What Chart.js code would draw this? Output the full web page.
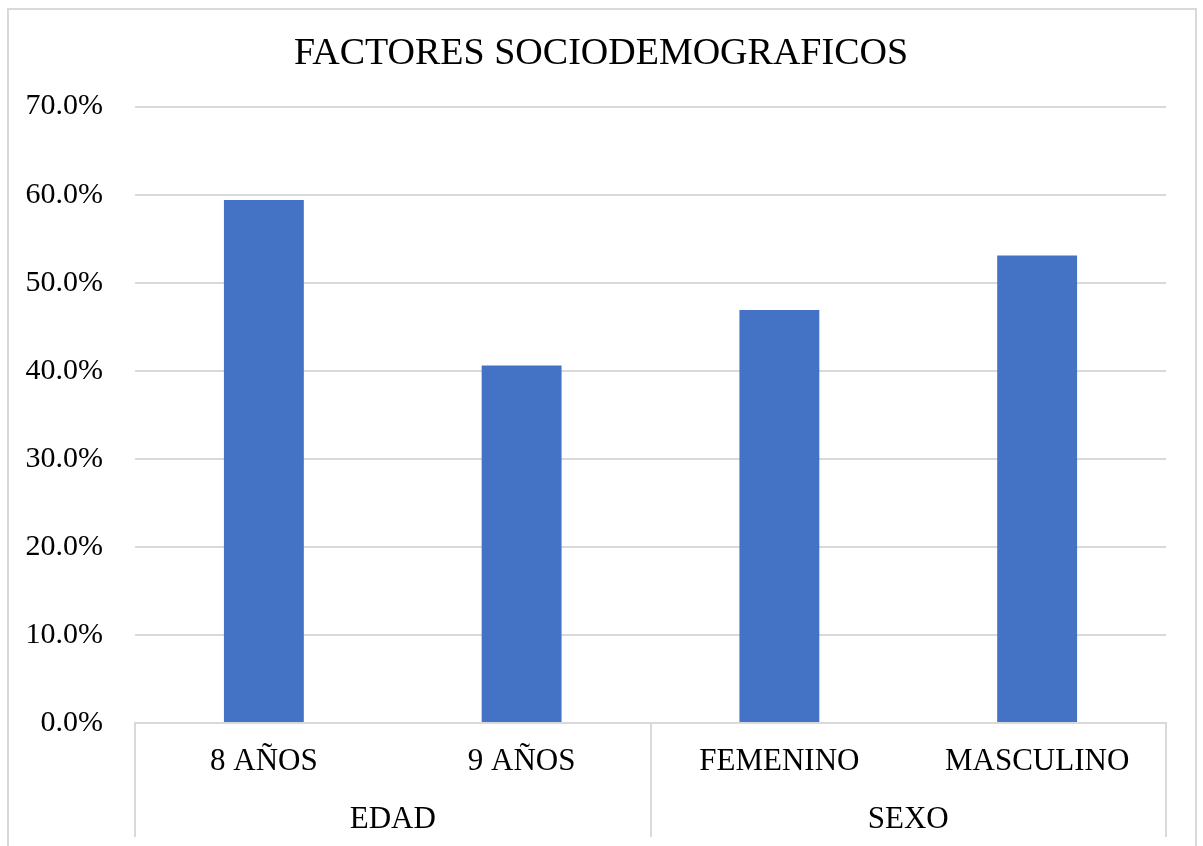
<!DOCTYPE html>
<html>
<head>
<meta charset="utf-8">
<script src="https://cdn.jsdelivr.net/npm/chart.js@4"></script>
<style>
  html, body { margin: 0; padding: 0; background: #fff; }
  #wrap { width: 1203px; height: 846px; position: relative; }
</style>
</head>
<body>
<div id="wrap"><canvas id="factoresChart" width="1203" height="846"></canvas></div>
<script>
// data
const categories = ["8 AÑOS", "9 AÑOS", "FEMENINO", "MASCULINO"];
const groups = ["EDAD", "SEXO"];
const groupStarts = [0, 2, 4]; // boundary indices between groups
const values = [59.4, 40.6, 46.9, 53.1];
const yTicks = [0, 10, 20, 30, 40, 50, 60, 70];

const SERIF = "'Liberation Serif', 'Times New Roman', serif";
const LINE = "#d9d9d9";

// outer frame like the Excel chart area
const framePlugin = {
  id: "frame",
  beforeDraw(chart) {
    const c = chart.ctx;
    c.save();
    c.fillStyle = "#fff";
    c.fillRect(0, 0, chart.width, chart.height);
    c.strokeStyle = LINE;
    c.lineWidth = 2;
    c.strokeRect(8, 9, chart.width - 15, chart.height + 20);
    c.restore();
  }
};

// vertical separators between category groups (multi-level axis)
const groupLines = {
  id: "groupLines",
  afterDraw(chart) {
    const xs = chart.scales.x, x2 = chart.scales.x2;
    const c = chart.ctx;
    c.save();
    c.strokeStyle = LINE;
    c.lineWidth = 2;
    groupStarts.forEach(i => {
      const px = Math.round(xs.getPixelForValue(i - 0.5));
      c.beginPath();
      c.moveTo(px, xs.top);
      c.lineTo(px, x2.bottom);
      c.stroke();
    });
    c.restore();
  }
};

const ctx = document.getElementById("factoresChart").getContext("2d");
new Chart(ctx, {
  type: "bar",
  data: {
    labels: categories,
    datasets: [
      { label: "Serie", data: values, backgroundColor: "#4472c4", borderWidth: 0,
        categoryPercentage: 1, barPercentage: 0.31, xAxisID: "x", yAxisID: "y" }
    ]
  },
  options: {
    responsive: false,
    animation: false,
    layout: { padding: { left: 20, right: 21, top: 0, bottom: 9 } },
    plugins: {
      legend: { display: false },
      tooltip: { enabled: false },
      title: {
        display: true,
        text: "FACTORES SOCIODEMOGRAFICOS",
        color: "#000",
        font: { family: SERIF, size: 38, weight: "normal" },
        padding: { top: 31, bottom: 30 }
      }
    },
    scales: {
      y: {
        min: 0,
        max: 70,
        afterBuildTicks: (scale) => { scale.ticks = yTicks.map(v => ({ value: v })); },
        afterFit: (scale) => { scale.width = 115; },
        ticks: {
          color: "#000",
          padding: 32,
          font: { family: SERIF, size: 30 },
          callback: (v) => v.toFixed(1) + "%"
        },
        grid: { color: LINE, lineWidth: 2, drawTicks: false, tickLength: 0 },
        border: { display: false }
      },
      // empty spacer on the right so the title stays centred on the frame
      yR: {
        type: "linear",
        position: "right",
        display: true,
        afterFit: (scale) => { scale.width = 16; },
        ticks: { display: false },
        grid: { display: false, drawTicks: false },
        border: { display: false }
      },
      x: {
        position: "bottom",
        offset: true,
        afterFit: (scale) => { scale.height = 78; },
        ticks: { color: "#000", padding: 20, font: { family: SERIF, size: 31 }, maxRotation: 0, autoSkip: false },
        grid: { display: false, drawTicks: false, tickLength: 0 },
        border: { display: true, color: LINE, width: 2 }
      },
      x2: {
        type: "category",
        position: "bottom",
        labels: groups,
        offset: true,
        afterFit: (scale) => { scale.height = 36; },
        ticks: { color: "#000", padding: 0, font: { family: SERIF, size: 31 }, maxRotation: 0, autoSkip: false },
        grid: { display: false, drawTicks: false, tickLength: 0 },
        border: { display: false }
      }
    }
  },
  plugins: [framePlugin, groupLines]
});
</script>
</body>
</html>
